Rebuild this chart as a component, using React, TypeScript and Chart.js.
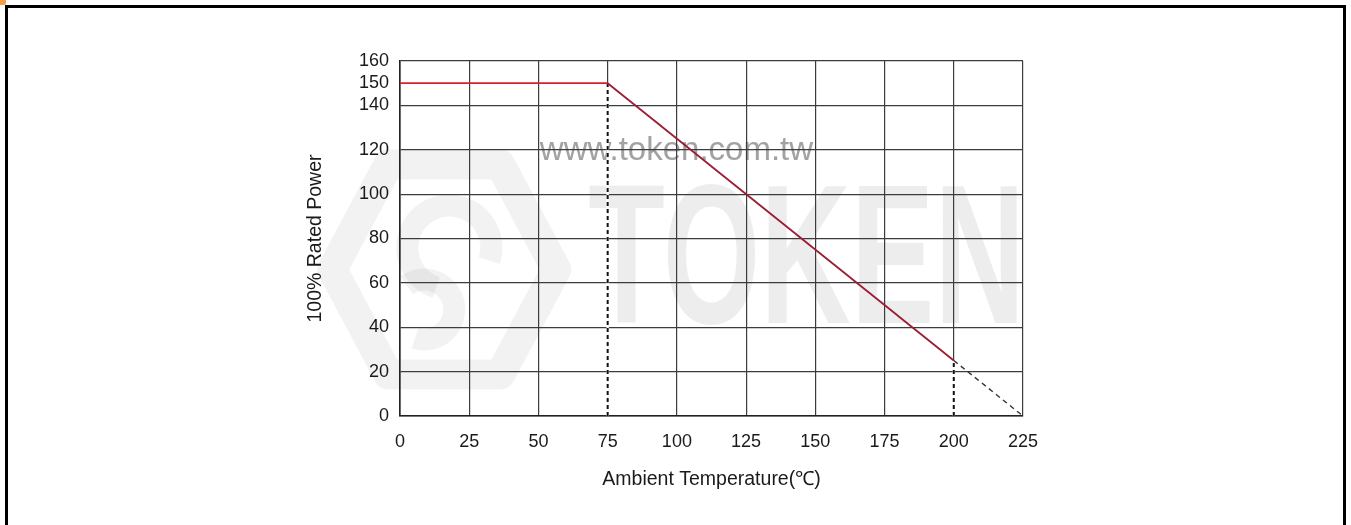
import React, { useEffect, useRef } from "react";
import { Chart, registerables } from "chart.js";

Chart.register(...registerables);

const deratingX = [0, 75, 200];
const deratingY = [150, 150, 25];
const extensionX = [200, 225];
const extensionY = [25, 0];
const marker75X = [75, 75];
const marker75Y = [0, 150];
const marker200X = [200, 200];
const marker200Y = [0, 25];
const yTickValues = [0, 20, 40, 60, 80, 100, 120, 140, 150, 160];
const xTitle = "Ambient Temperature(\u2103)";
const yTitle = "100% Rated Power";
const watermarkUrl = "www.token.com.tw";
const watermarkBrand = "TOKEN";

const pts = (xs: number[], ys: number[]) => xs.map((x, i) => ({ x, y: ys[i] }));

const FONT = "'Liberation Sans', Arial, sans-serif";

const watermarkPlugin = {
  id: "watermark",
  beforeDraw(chart: any) {
    const { ctx, scales } = chart;
    const xs = scales.x;
    const ys = scales.y;
    // faint logo emblem
    ctx.save();
    const cx = xs.getPixelForValue(16);
    const cy = ys.getPixelForValue(66);
    ctx.strokeStyle = "rgba(0,0,0,0.05)";
    ctx.lineWidth = 30;
    ctx.lineJoin = "round";
    ctx.beginPath();
    const rx = 112;
    const ry = 105;
    ctx.moveTo(cx - rx, cy);
    ctx.lineTo(cx - rx / 2, cy - ry);
    ctx.lineTo(cx + rx / 2, cy - ry);
    ctx.lineTo(cx + rx, cy);
    ctx.lineTo(cx + rx / 2, cy + ry);
    ctx.lineTo(cx - rx / 2, cy + ry);
    ctx.closePath();
    ctx.stroke();
    ctx.lineWidth = 22;
    ctx.beginPath();
    ctx.arc(cx + 5, cy - 22, 42, Math.PI * 0.6, Math.PI * 2.1);
    ctx.stroke();
    ctx.beginPath();
    ctx.arc(cx - 20, cy + 40, 30, Math.PI * 1.3, Math.PI * 2.6);
    ctx.stroke();
    ctx.restore();
    // big brand letters
    ctx.save();
    ctx.fillStyle = "rgba(0,0,0,0.07)";
    ctx.font = `bold 128px ${FONT}`;
    ctx.textBaseline = "alphabetic";
    ctx.textAlign = "left";
    const bx = xs.getPixelForValue(68);
    const by = ys.getPixelForValue(42);
    ctx.translate(bx, by);
    ctx.scale(0.98, 1.55);
    ctx.fillText(watermarkBrand, 0, 0);
    ctx.restore();
    ctx.save();
    ctx.fillStyle = "#a2a2a2";
    ctx.font = `33px ${FONT}`;
    ctx.textBaseline = "middle";
    ctx.textAlign = "left";
    ctx.fillText(watermarkUrl, xs.getPixelForValue(50.5), ys.getPixelForValue(119.5));
    ctx.restore();
  },
};

export default function App() {
  const ref = useRef<HTMLCanvasElement>(null);
  useEffect(() => {
    if (!ref.current) return;
    const dotted = (xs: number[], ys: number[]) => [
      {
        data: pts(xs, ys),
        borderColor: "#ffffff",
        borderWidth: 2.4,
        pointRadius: 0,
        order: 5,
      },
      {
        data: pts(xs, ys),
        borderColor: "#111",
        borderWidth: 2,
        borderDash: [4, 3],
        pointRadius: 0,
        order: 4,
      },
    ];
    const chart = new Chart(ref.current, {
      type: "line",
      data: {
        datasets: [
          {
            data: pts(deratingX, deratingY),
            borderColor: "#b01a2c",
            borderWidth: 1.8,
            pointRadius: 0,
            order: 1,
            segment: {
              borderColor: (c: any) => (c.p0DataIndex === 0 ? "#d8202c" : "#9a1d33"),
            },
          },
          {
            data: pts(extensionX, extensionY),
            borderColor: "#333",
            borderWidth: 1.4,
            borderDash: [5, 4],
            pointRadius: 0,
            order: 2,
          },
          ...dotted(marker75X, marker75Y),
          ...dotted(marker200X, marker200Y),
        ],
      },
      options: {
        animation: false,
        responsive: false,
        devicePixelRatio: 1,
        layout: { padding: { left: 0, top: 61, right: 328, bottom: 0 } },
        plugins: { legend: { display: false }, tooltip: { enabled: false } },
        scales: {
          x: {
            type: "linear",
            min: 0,
            max: 225,
            ticks: {
              stepSize: 25,
              color: "#1a1a1a",
              font: { family: FONT, size: 18 },
              padding: 15,
              maxRotation: 0,
              autoSkip: false,
            },
            grid: { color: "#3c3c3c", lineWidth: 1.2, drawTicks: false },
            border: { color: "#222", width: 1.6 },
            title: {
              display: true,
              text: xTitle,
              color: "#1a1a1a",
              font: { family: FONT, size: 19.5 },
              padding: { top: 0, bottom: 34 },
            },
            afterFit: (s: any) => {
              s.height = 109;
            },
          },
          y: {
            type: "linear",
            min: 0,
            max: 160,
            afterBuildTicks: (s: any) => {
              s.ticks = yTickValues.map((v) => ({ value: v }));
            },
            ticks: {
              color: "#1a1a1a",
              font: { family: FONT, size: 18 },
              padding: 11,
              autoSkip: false,
            },
            grid: {
              color: (c: any) => (c.tick && c.tick.value === 150 ? "rgba(0,0,0,0)" : "#3c3c3c"),
              lineWidth: 1.2,
              drawTicks: false,
            },
            border: { color: "#222", width: 1.6 },
            title: {
              display: true,
              text: yTitle,
              color: "#1a1a1a",
              font: { family: FONT, size: 19.5 },
              padding: { top: 304, bottom: 0 },
            },
            afterFit: (s: any) => {
              s.width = 400;
            },
          },
        },
      },
      plugins: [watermarkPlugin],
    } as any);
    return () => chart.destroy();
  }, []);

  return (
    <div style={{ position: "fixed", left: 0, top: 0, width: 1351, height: 525, background: "#fff", overflow: "hidden" }}>
      <canvas ref={ref} width={1351} height={525} style={{ position: "absolute", left: 0, top: 0 }} />
      <div
        style={{
          position: "absolute",
          left: 5,
          top: 5,
          width: 1335,
          height: 540,
          border: "3px solid #000",
          boxSizing: "content-box",
          pointerEvents: "none",
        }}
      />
      <div style={{ position: "absolute", left: 0, top: 0, width: 6, height: 5, background: "#f3a045", borderBottomRightRadius: 2 }} />
    </div>
  );
}
